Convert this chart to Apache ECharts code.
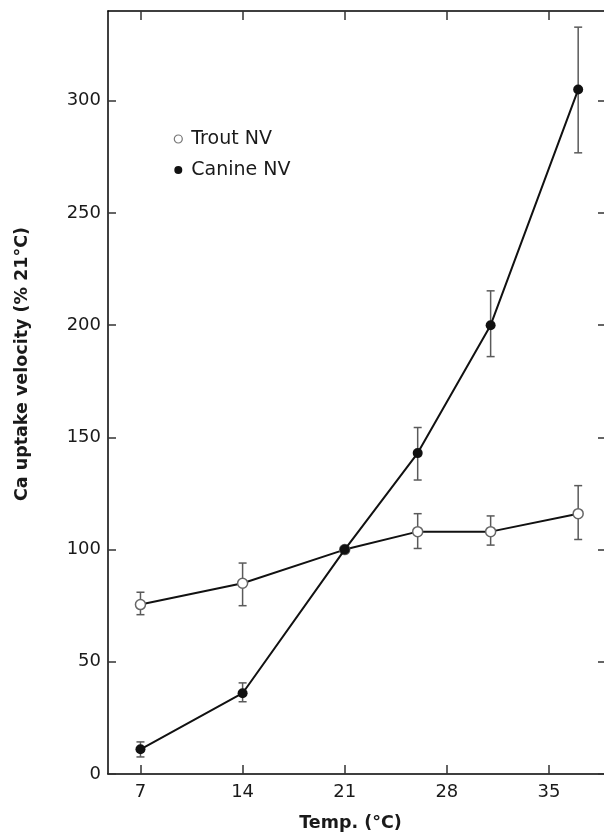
<!DOCTYPE html>
<html>
<head>
<meta charset="utf-8">
<script src="https://cdn.jsdelivr.net/npm/echarts@6/dist/echarts.min.js"></script>
<style>
  html, body { margin: 0; padding: 0; background: #fff; }
  #chart { width: 604px; height: 836px; }
</style>
</head>
<body>
<div id="chart"></div>
<script>
// temperatures (°C)
const temps = [7, 14, 21, 26, 31, 37];
const xTicks = [7, 14, 21, 28, 35];
const yTicks = [0, 50, 100, 150, 200, 250, 300];

// Ca uptake velocity, % of value at 21°C
const troutMean = [75.5, 85, 100, 108, 108, 116];
const troutHigh = [81, 94, null, 116, 115, 128.5];
const troutLow = [71, 75, null, 100.5, 102, 104.5];

const canineMean = [11, 36, 100, 143, 200, 305];
const canineHigh = [14.3, 40.6, null, 154.4, 215.3, 332.8];
const canineLow = [7.6, 32.2, null, 131, 186, 276.8];

const FONT = 'DejaVu Sans';
const INK = '#1a1a1a';

const pairs = (ys) => temps.map((t, i) => [t, ys[i]]);
const bars = (lo, hi) => temps
  .map((t, i) => [t, lo[i], hi[i]])
  .filter(d => d[1] != null);

// vertical error bar with caps
const renderErr = (params, api) => {
  const top = api.coord([api.value(0), api.value(2)]);
  const bot = api.coord([api.value(0), api.value(1)]);
  const w = 4;
  const st = { stroke: '#5a5a5a', lineWidth: 1.5 };
  return {
    type: 'group',
    children: [
      { type: 'line', shape: { x1: top[0], y1: top[1], x2: bot[0], y2: bot[1] }, style: st },
      { type: 'line', shape: { x1: top[0] - w, y1: top[1], x2: top[0] + w, y2: top[1] }, style: st },
      { type: 'line', shape: { x1: bot[0] - w, y1: bot[1], x2: bot[0] + w, y2: bot[1] }, style: st }
    ]
  };
};

const chart = echarts.init(document.getElementById('chart'));

const xBase = {
  type: 'value', min: 4.775, max: 38.77,
  splitLine: { show: false },
  axisLine: { show: true, onZero: false, lineStyle: { color: '#000', width: 1.5 } },
  axisTick: { show: true, inside: true, length: 9, customValues: xTicks, lineStyle: { color: '#333', width: 1.5 } }
};
const yBase = {
  type: 'value', min: 0, max: 340,
  splitLine: { show: false },
  axisLine: { show: true, onZero: false, lineStyle: { color: '#000', width: 1.5 } },
  axisTick: { show: true, inside: true, length: 8, customValues: yTicks, lineStyle: { color: '#333', width: 1.5 } }
};

chart.setOption({
  animation: false,
  backgroundColor: '#fff',
  grid: { left: 108, right: -1, top: 11, bottom: 62 },
  xAxis: [
    Object.assign({}, xBase, {
      position: 'bottom',
      axisLabel: { customValues: xTicks, margin: 9, color: INK, fontFamily: FONT, fontSize: 18 }
    }),
    Object.assign({}, xBase, { position: 'top', axisLabel: { show: false } })
  ],
  yAxis: [
    Object.assign({}, yBase, {
      position: 'left',
      axisLabel: { customValues: yTicks, margin: 7, color: INK, fontFamily: FONT, fontSize: 18 }
    }),
    Object.assign({}, yBase, {
      position: 'right',
      axisLine: { show: false, onZero: false },
      axisTick: Object.assign({}, yBase.axisTick, { length: 6 }),
      axisLabel: { show: false }
    })
  ],
  legend: {
    orient: 'vertical',
    left: 173.7, top: 129,
    padding: 0,
    itemWidth: 16, itemHeight: 8, itemGap: 11,
    textStyle: { color: INK, fontFamily: FONT, fontSize: 19, lineHeight: 20 },
    data: [
      { name: 'Trout NV', icon: 'circle', itemStyle: { color: '#fff', borderColor: '#777', borderWidth: 1.2 } },
      { name: 'Canine NV', icon: 'circle', itemStyle: { color: '#111' } }
    ]
  },
  graphic: [
    {
      type: 'text', x: 22.5, y: 364, rotation: Math.PI / 2,
      style: { text: 'Ca uptake velocity (% 21°C)', fill: INK, font: 'bold 17.5px "DejaVu Sans"', align: 'center', verticalAlign: 'middle' }
    },
    {
      type: 'text', x: 350.5, y: 823,
      style: { text: 'Temp. (°C)', fill: INK, font: 'bold 17.5px "DejaVu Sans"', align: 'center', verticalAlign: 'middle' }
    }
  ],
  series: [
    {
      name: 'trout err', type: 'custom', z: 1,
      renderItem: renderErr, data: bars(troutLow, troutHigh)
    },
    {
      name: 'canine err', type: 'custom', z: 1,
      renderItem: renderErr, data: bars(canineLow, canineHigh)
    },
    {
      name: 'Trout NV', type: 'line', z: 3,
      data: pairs(troutMean),
      symbol: 'circle', symbolSize: 10,
      lineStyle: { color: '#111', width: 2 },
      itemStyle: { color: '#fff', borderColor: '#666', borderWidth: 1.5 }
    },
    {
      name: 'Canine NV', type: 'line', z: 4,
      data: pairs(canineMean),
      symbol: 'circle', symbolSize: 10,
      lineStyle: { color: '#111', width: 2 },
      itemStyle: { color: '#111' }
    }
  ]
});
</script>
</body>
</html>
